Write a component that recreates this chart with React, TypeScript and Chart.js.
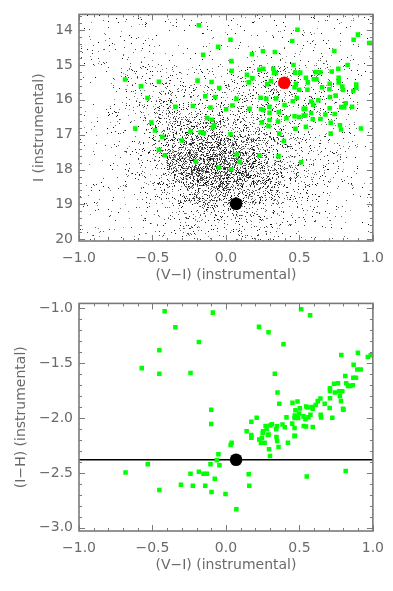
import React, { useEffect, useRef } from "react";
import { Chart, registerables } from "chart.js";
Chart.register(...registerables);

// ---------- Top panel: colour–magnitude diagram ----------
const cmdXTicks = [-1.0, -0.5, 0.0, 0.5, 1.0];
const cmdYTicks = [14, 15, 16, 17, 18, 19, 20];

// green squares: (V-I) and I
const cmdGreenVI = [
  -0.686, -0.578, -0.456, -0.534, -0.344, -0.507, -0.618, -0.483, -0.433, -0.456, -0.415, -0.300, -0.241,
  -0.172, -0.150, -0.205, -0.049, 0.037, 0.073, 0.094, 0.227, 0.358, 0.512, 0.363, 0.395,
  -0.184, 0.031, -0.053, -0.155, 0.037, 0.039, 0.177, 0.252, 0.333, 0.487, 0.451, 0.898, 0.869, 0.975, 0.99, 0.738, 0.828,
  -0.193, -0.098, -0.046, -0.073, -0.141, -0.225, -0.105, -0.127, -0.096, -0.089, -0.081, 0.031,
  0.001, 0.044, 0.071, 0.161, 0.143, 0.155, 0.180, 0.227, 0.254, 0.322, 0.327, 0.340, 0.281, 0.306, 0.236, 0.275, 0.342,
  0.239, 0.295, 0.254, 0.297, 0.297, 0.354, 0.290, 0.245, 0.412, 0.399, 0.455, 0.482, 0.460, 0.471, 0.505, 0.360,
  0.476, 0.467, 0.498, 0.544, 0.557, 0.598, 0.616, 0.611, 0.643, 0.555, 0.580, 0.593, 0.629, 0.529, 0.540, 0.529, 0.540,
  0.467, 0.498, 0.580, 0.544, 0.473, 0.677, 0.643, 0.654, 0.706, 0.704, 0.720, 0.765, 0.767, 0.767, 0.792, 0.747, 0.708,
  0.797, 0.867, 0.887, 0.887, 0.815, 0.785, 0.805, 0.858, 0.706, 0.740, 0.713, 0.776, 0.783, 0.713, 0.919, 0.591,
];
const cmdGreenI = [
  15.42, 15.61, 15.48, 15.95, 16.20, 16.65, 16.82, 16.88, 17.06, 17.43, 17.59, 17.17, 16.91,
  16.93, 16.96, 17.77, 17.94, 17.99, 17.57, 17.78, 17.60, 17.62, 17.79, 16.97, 17.18,
  13.86, 14.28, 14.48, 14.71, 14.89, 15.17, 14.69, 14.61, 14.63, 13.99, 14.31, 14.13, 14.28, 14.37, 14.37, 14.60, 15.00,
  15.45, 15.49, 15.66, 15.92, 15.90, 16.18, 16.22, 16.52, 16.57, 16.79, 16.72, 16.99,
  16.27, 16.16, 15.97, 16.26, 15.28, 15.50, 15.38, 15.14, 15.11, 15.11, 15.22, 15.23, 15.55, 15.46, 15.94, 15.97, 15.96,
  16.27, 16.20, 16.29, 16.37, 16.58, 16.62, 16.76, 16.65, 16.53, 16.15, 16.04, 15.95, 15.00, 15.22, 15.22, 16.36,
  15.54, 15.64, 15.71, 15.37, 15.50, 15.41, 15.41, 15.21, 15.21, 15.71, 16.05, 16.14, 16.01, 16.26, 16.26, 16.45, 16.45,
  16.47, 16.49, 16.38, 16.77, 16.83, 16.42, 16.55, 15.64, 15.54, 15.70, 15.19, 15.11, 15.37, 15.50, 15.62, 15.88, 15.92,
  15.72, 15.75, 15.56, 15.65, 16.10, 16.21, 16.21, 16.20, 16.24, 16.41, 16.66, 16.73, 16.85, 16.97, 16.82, 16.56,
];
const cmdRedVI = [0.397];
const cmdRedI = [15.51];
const cmdBlackVI = [0.069];
const cmdBlackI = [18.98];

// field-star density (0 = empty … 9 = densest),
// cells 0.1 mag wide in (V-I), 0.5 mag tall in I
const fieldColorEdges = [-1.0, -0.9, -0.8, -0.7, -0.6, -0.5, -0.4, -0.3, -0.2, -0.1, 0.0, 0.1, 0.2, 0.3, 0.4, 0.5, 0.6, 0.7, 0.8, 0.9, 1.0];
const fieldMagEdges = [13.5, 14.0, 14.5, 15.0, 15.5, 16.0, 16.5, 17.0, 17.5, 18.0, 18.5, 19.0, 19.5, 20.1];
const fieldDensity = [
  [1, 1, 1, 1, 1, 1, 1, 1, 1, 1, 1, 1, 1, 1, 1, 1, 1, 1, 1, 1],
  [1, 1, 1, 1, 1, 1, 1, 1, 1, 1, 1, 1, 1, 1, 2, 2, 2, 1, 1, 1],
  [2, 2, 1, 2, 2, 2, 1, 1, 1, 1, 1, 2, 2, 2, 2, 2, 2, 1, 1, 1],
  [1, 1, 2, 3, 3, 3, 2, 2, 2, 2, 3, 3, 3, 4, 4, 3, 3, 2, 2, 1],
  [1, 1, 2, 3, 3, 4, 4, 3, 3, 3, 4, 4, 4, 4, 4, 3, 3, 2, 2, 1],
  [1, 1, 2, 3, 4, 5, 5, 4, 4, 4, 4, 4, 4, 4, 3, 3, 3, 2, 2, 1],
  [1, 1, 2, 2, 4, 5, 6, 6, 6, 6, 5, 5, 5, 4, 3, 3, 2, 2, 2, 1],
  [1, 1, 1, 2, 3, 5, 7, 8, 8, 8, 8, 7, 6, 5, 4, 3, 2, 2, 2, 1],
  [1, 1, 1, 2, 3, 5, 8, 9, 9, 9, 9, 8, 7, 6, 5, 3, 3, 2, 2, 1],
  [1, 1, 1, 2, 3, 4, 7, 8, 9, 9, 9, 8, 7, 6, 5, 4, 3, 2, 2, 1],
  [1, 1, 1, 1, 2, 3, 4, 6, 7, 7, 7, 6, 6, 5, 4, 3, 2, 2, 1, 1],
  [1, 1, 1, 1, 2, 2, 3, 4, 5, 5, 4, 4, 4, 3, 3, 2, 2, 2, 1, 1],
  [1, 1, 1, 1, 1, 2, 2, 3, 3, 3, 3, 3, 3, 2, 2, 2, 1, 1, 1, 1],
];
const densityCoverage = [0, 0.015, 0.035, 0.062, 0.097, 0.14, 0.19, 0.26, 0.34, 0.44];

// ---------- Bottom panel: (I-H) vs (V-I) ----------
const ihYTicks = [-1.0, -1.5, -2.0, -2.5, -3.0];
const ihGreenVI = [
  -0.417, -0.344, -0.453, -0.573, -0.453, -0.241, -0.184, -0.089, 0.225, 0.290, 0.392, 0.512, 0.573, 0.333, 0.351, 0.363,
  -0.100, -0.100, 0.785, 0.898, 0.966, 0.986, 0.869, 0.894, 0.917, 0.812, 0.867, 0.885, 0.736, 0.763, 0.819, 0.831, 0.846,
  0.864, 0.708, 0.708, 0.742, 0.771, 0.792, 0.776, 0.783, 0.797, 0.800, 0.708, 0.672, 0.706, 0.724, 0.625, 0.643, 0.611,
  0.586, 0.590, 0.546, 0.556, 0.503, 0.473, 0.453, 0.487, 0.498, 0.469, 0.467, 0.492, 0.528, 0.561, 0.575, 0.645, 0.648,
  0.541, 0.530, 0.545, 0.591, 0.451, 0.467, 0.467, 0.412, 0.385, 0.401, 0.347, 0.342, 0.313, 0.302, 0.270, 0.277, 0.286,
  0.254, 0.209, 0.173, 0.141, 0.173, 0.173, 0.344, 0.227, 0.245, 0.250, 0.238, 0.263, 0.290, 0.293, 0.300, 0.349, 0.358,
  0.422, 0.469, 0.039, 0.032, -0.051, -0.062, -0.044, -0.105, -0.184, -0.153, -0.130, -0.241, -0.225, -0.141, -0.076,
  -0.098, -0.003, 0.071, 0.155, 0.159, 0.550, 0.815, -0.683, -0.532, -0.453, -0.306,
];
const ihGreenIH = [
  -1.027, -1.172, -1.382, -1.545, -1.596, -1.590, -1.307, -1.039, -1.169, -1.217, -1.328, -1.009, -1.063, -1.596, -1.768, -1.870,
  -1.924, -2.054, -1.425, -1.406, -1.443, -1.428, -1.515, -1.557, -1.557, -1.617, -1.632, -1.632, -1.687, -1.684, -1.684, -1.707, -1.707,
  -1.702, -1.729, -1.753, -1.768, -1.756, -1.756, -1.801, -1.846, -1.915, -1.925, -1.819, -1.870, -1.909, -1.997, -1.846, -1.822, -1.882,
  -1.900, -1.915, -1.894, -1.905, -1.912, -1.930, -1.861, -1.849, -1.958, -1.976, -2.000, -2.000, -1.985, -1.994, -1.970, -1.970, -1.994,
  -2.012, -2.072, -2.078, -2.081, -2.051, -2.090, -2.165, -1.994, -2.060, -2.084, -2.075, -2.102, -2.057, -2.068, -2.072, -2.100, -2.154,
  -2.120, -1.997, -2.033, -2.120, -2.156, -2.180, -2.174, -2.195, -2.180, -2.135, -2.226, -2.226, -2.150, -2.285, -2.346, -2.210, -2.265,
  -2.226, -2.162, -2.225, -2.245, -2.331, -2.385, -2.430, -2.421, -2.490, -2.509, -2.509, -2.509, -2.617, -2.617, -2.554,
  -2.674, -2.692, -2.831, -2.512, -2.617, -2.533, -2.484, -2.497, -2.421, -2.656, -2.608,
];
const ihBlackVI = [0.069];
const ihBlackIH = [-2.38];
const ihLineLevel = -2.38;

// ---------- helpers ----------
const FONT = "'DejaVu Sans', 'Liberation Sans', sans-serif";
const TEXT = "#6a6a6a";
const fmt = (v: number, d: number) => v.toFixed(d).replace("-", "\u2212");
const pts = (xs: number[], ys: number[]) => xs.map((x, i) => ({ x, y: ys[i] }));

function hash(x: number, y: number, s: number) {
  let h = Math.imul(x, 374761393) + Math.imul(y, 668265263) + Math.imul(s, 2246822519);
  h = Math.imul(h ^ (h >>> 13), 1274126177);
  h = h ^ (h >>> 16);
  return (h >>> 0) / 4294967296;
}

const fieldPlugin = {
  id: "field",
  beforeDatasetsDraw(chart: any) {
    const opts = chart.options.plugins.field;
    if (!opts || !opts.enabled) return;
    const { ctx, chartArea: a, scales } = chart;
    const L = Math.round(a.left), T = Math.round(a.top);
    const W = Math.round(a.right) - L, H = Math.round(a.bottom) - T;
    const img = ctx.getImageData(L, T, W, H);
    const d = img.data;
    const colIdx: number[] = [];
    for (let px = 0; px < W; px++) {
      const v = scales.x.getValueForPixel(L + px + 0.5);
      let c = -1;
      for (let k = 0; k < fieldColorEdges.length - 1; k++) if (v >= fieldColorEdges[k] && v < fieldColorEdges[k + 1]) c = k;
      colIdx.push(c);
    }
    const rowIdx: number[] = [];
    for (let py = 0; py < H; py++) {
      const m = scales.y.getValueForPixel(T + py + 0.5);
      let r = -1;
      for (let k = 0; k < fieldMagEdges.length - 1; k++) if (m >= fieldMagEdges[k] && m < fieldMagEdges[k + 1]) r = k;
      rowIdx.push(r);
    }
    for (let py = 0; py < H; py++) {
      const r = rowIdx[py];
      if (r < 0) continue;
      for (let px = 0; px < W; px++) {
        const c = colIdx[px];
        if (c < 0) continue;
        const p = densityCoverage[fieldDensity[r][c]];
        if (hash(L + px, T + py, 1) < p) {
          const g = Math.floor(hash(L + px, T + py, 2) * 150);
          const i = (py * W + px) * 4;
          d[i] = g; d[i + 1] = g; d[i + 2] = g; d[i + 3] = 255;
        }
      }
    }
    ctx.putImageData(img, L, T);
  },
};

const framePlugin = {
  id: "frame",
  afterDatasetsDraw(chart: any) {
    const o = chart.options.plugins.frame;
    const { ctx, chartArea: a, scales } = chart;
    ctx.save();
    ctx.strokeStyle = "#7a7a7a";
    ctx.lineWidth = 1.6;
    ctx.strokeRect(a.left, a.top, a.right - a.left, a.bottom - a.top);
    ctx.lineWidth = 1;
    const run = (scale: any, step: number, major: number, horiz: boolean) => {
      const lo = Math.min(scale.min, scale.max), hi = Math.max(scale.min, scale.max);
      const n0 = Math.ceil(lo / step - 1e-6), n1 = Math.floor(hi / step + 1e-6);
      for (let n = n0; n <= n1; n++) {
        const v = n * step;
        const isMajor = Math.abs(v / major - Math.round(v / major)) < 1e-6;
        const len = isMajor ? 6 : 3;
        const p = Math.round(scale.getPixelForValue(v)) + 0.5;
        ctx.beginPath();
        if (horiz) {
          ctx.moveTo(p, a.bottom); ctx.lineTo(p, a.bottom - len);
          ctx.moveTo(p, a.top); ctx.lineTo(p, a.top + len);
        } else {
          ctx.moveTo(a.left, p); ctx.lineTo(a.left + len, p);
          ctx.moveTo(a.right, p); ctx.lineTo(a.right - len, p);
        }
        ctx.stroke();
      }
    };
    run(scales.x, o.xMinor, o.xMajor, true);
    run(scales.y, o.yMinor, o.yMajor, false);
    // axis titles
    ctx.fillStyle = TEXT;
    ctx.font = `14px ${FONT}`;
    ctx.textAlign = "center";
    ctx.textBaseline = "middle";
    ctx.fillText(o.xTitle, (a.left + a.right) / 2, a.bottom + o.xTitleOffset);
    ctx.translate(o.yTitleX, (a.top + a.bottom) / 2);
    ctx.rotate(-Math.PI / 2);
    ctx.fillText(o.yTitle, 0, 0);
    ctx.restore();
  },
};

function makeOptions(cfg: any) {
  return {
    responsive: false,
    animation: false,
    events: [],
    layout: { padding: { left: 8, right: 19, top: 12, bottom: 0 } },
    plugins: {
      legend: { display: false },
      tooltip: { enabled: false },
      field: { enabled: cfg.field },
      frame: cfg.frame,
    },
    scales: {
      x: {
        type: "linear",
        min: -1,
        max: 1,
        grid: { display: false, drawTicks: false },
        border: { display: false },
        afterFit: (s: any) => { s.height = cfg.xAxisHeight; },
        afterBuildTicks: (s: any) => { s.ticks = cmdXTicks.map((value) => ({ value })); },
        ticks: {
          padding: 9,
          maxRotation: 0,
          autoSkip: false,
          color: TEXT,
          font: { family: FONT, size: 14 },
          callback: (v: any) => fmt(Number(v), 1),
        },
      },
      y: {
        type: "linear",
        min: cfg.yMin,
        max: cfg.yMax,
        reverse: cfg.reverse,
        grid: { display: false, drawTicks: false },
        border: { display: false },
        afterFit: (s: any) => { s.width = 71; },
        afterBuildTicks: (s: any) => { s.ticks = cfg.yTicks.map((value: number) => ({ value })); },
        ticks: {
          padding: 6,
          autoSkip: false,
          color: TEXT,
          font: { family: FONT, size: 14 },
          callback: (v: any) => fmt(Number(v), cfg.yDecimals),
        },
      },
    },
  };
}

function TopChart() {
  const ref = useRef<HTMLCanvasElement>(null);
  useEffect(() => {
    const chart = new Chart(ref.current as HTMLCanvasElement, {
      type: "scatter",
      data: {
        datasets: [
          { data: pts(cmdBlackVI, cmdBlackI), pointStyle: "circle", pointRadius: 6.3, backgroundColor: "#000000", borderWidth: 0 },
          { data: pts(cmdRedVI, cmdRedI), pointStyle: "circle", pointRadius: 6.3, backgroundColor: "#ff0000", borderWidth: 0 },
          { data: pts(cmdGreenVI, cmdGreenI), pointStyle: "rect", pointRadius: 3.2, backgroundColor: "#00ff00", borderWidth: 0 },
        ],
      },
      options: makeOptions({
        field: true,
        xAxisHeight: 49,
        yMin: 13.55,
        yMax: 20.05,
        reverse: true,
        yTicks: cmdYTicks,
        yDecimals: 0,
        frame: { xMinor: 0.1, xMajor: 0.5, yMinor: 0.2, yMajor: 1, xTitle: "(V\u2212I) (instrumental)", xTitleOffset: 34.7, yTitle: "I (instrumental)", yTitleX: 39 },
      }) as any,
      plugins: [fieldPlugin, framePlugin],
    });
    return () => chart.destroy();
  }, []);
  return <canvas ref={ref} width={393} height={290} style={{ display: "block", width: 393, height: 290 }} />;
}

function BottomChart() {
  const ref = useRef<HTMLCanvasElement>(null);
  useEffect(() => {
    const chart = new Chart(ref.current as HTMLCanvasElement, {
      type: "scatter",
      data: {
        datasets: [
          { data: pts(ihBlackVI, ihBlackIH), pointStyle: "circle", pointRadius: 6.3, backgroundColor: "#000000", borderWidth: 0 },
          { data: pts(ihGreenVI, ihGreenIH), pointStyle: "rect", pointRadius: 3.2, backgroundColor: "#00ff00", borderWidth: 0 },
          {
            data: [{ x: -1, y: ihLineLevel }, { x: 1, y: ihLineLevel }],
            showLine: true,
            pointRadius: 0,
            borderColor: "#000000",
            borderWidth: 1.6,
          },
        ],
      },
      options: makeOptions({
        field: false,
        xAxisHeight: 60,
        yMin: -3.03,
        yMax: -0.955,
        reverse: false,
        yTicks: ihYTicks,
        yDecimals: 1,
        frame: { xMinor: 0.1, xMajor: 0.5, yMinor: 0.1, yMajor: 0.5, xTitle: "(V\u2212I) (instrumental)", xTitleOffset: 34.7, yTitle: "(I\u2212H) (instrumental)", yTitleX: 21.5 },
      }) as any,
      plugins: [framePlugin],
    });
    return () => chart.destroy();
  }, []);
  return <canvas ref={ref} width={393} height={302} style={{ display: "block", width: 393, height: 302 }} />;
}

export default function App() {
  return (
    <div style={{ position: "absolute", left: 0, top: 0, width: 393, height: 591, background: "#ffffff" }}>
      <div style={{ position: "absolute", left: 0, top: 0 }}>
        <TopChart />
      </div>
      <div style={{ position: "absolute", left: 0, top: 289 }}>
        <BottomChart />
      </div>
    </div>
  );
}
